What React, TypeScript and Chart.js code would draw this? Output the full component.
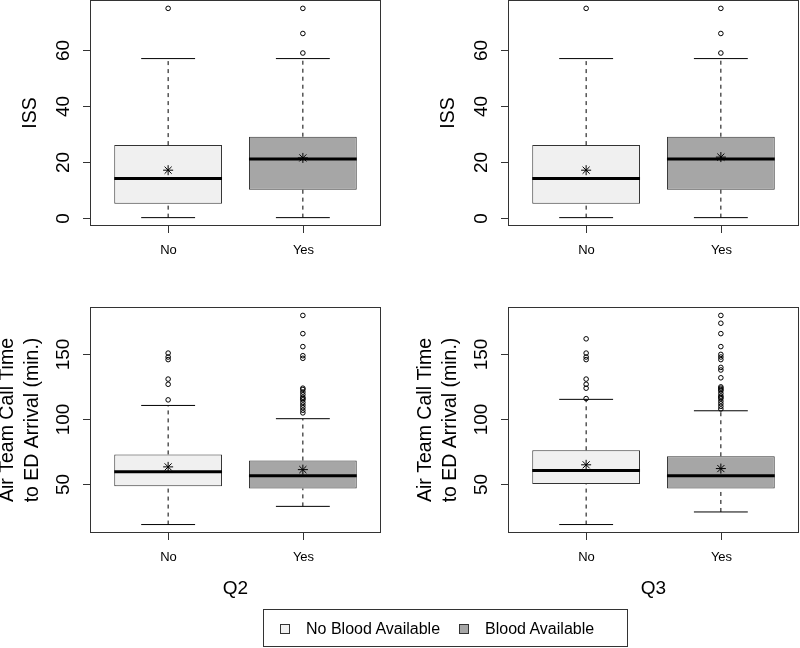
import React, { useEffect, useRef } from 'react';
import { Chart, registerables } from 'chart.js';

Chart.register(...registerables);

// ---------- data ----------
const groups = ['No', 'Yes'];
const legendLabels = ['No Blood Available', 'Blood Available'];
const panelTitles = ['Q2', 'Q3'];

const issTicks = [0, 20, 40, 60];
const airTicks = [50, 100, 150];
const issTitle = ['ISS'];
const airTitle = ['Air Team Call Time', 'to ED Arrival (min.)'];

// ISS, Q2
const issQ2Min = [0, 0];
const issQ2Q1 = [5, 10];
const issQ2Median = [14, 21];
const issQ2Q3 = [26, 29];
const issQ2Max = [57, 57];
const issQ2Mean = [17, 21.4];
const issQ2OutliersNo = [75];
const issQ2OutliersYes = [59, 66, 75];

// ISS, Q3
const issQ3Min = [0, 0];
const issQ3Q1 = [5, 10];
const issQ3Median = [14, 21];
const issQ3Q3 = [26, 29];
const issQ3Max = [57, 57];
const issQ3Mean = [17, 21.7];
const issQ3OutliersNo = [75];
const issQ3OutliersYes = [59, 66, 75];

// Air team call time to ED arrival, Q2
const airQ2Min = [19, 33];
const airQ2Q1 = [48.5, 46.7];
const airQ2Median = [59.6, 56.5];
const airQ2Q3 = [73, 68.3];
const airQ2Max = [110.7, 100.5];
const airQ2Mean = [63.4, 61.3];
const airQ2OutliersNo = [115, 127, 131, 146, 148, 151];
const airQ2OutliersYes = [180, 166, 156, 149, 147, 124, 123, 121, 119, 117, 116, 115, 113, 111, 109, 107, 105];

// Air team call time to ED arrival, Q3
const airQ3Min = [19, 28.7];
const airQ3Q1 = [50.3, 46.7];
const airQ3Median = [60.6, 56.5];
const airQ3Q3 = [76.2, 71.6];
const airQ3Max = [115.4, 106.6];
const airQ3Mean = [65, 62.1];
const airQ3OutliersNo = [162, 151, 148, 146, 131, 127, 124, 116];
const airQ3OutliersYes = [180, 174, 166, 156, 150, 148, 146, 140, 138, 132, 125, 124, 123, 122, 120, 118, 117, 116, 114, 112, 110, 108];

const issRange = [-3, 78];
const airRange = [12.5, 186.5];

// ---------- styles ----------
const FONT = '"Liberation Sans", Arial, sans-serif';
const LIGHT = '#F0F0F0';
const DARK = '#A6A6A6';
const FRAME = '#333333';
const BOX_W = 0.8;

type Stats = {
  min: number[]; q1: number[]; median: number[]; q3: number[]; max: number[]; mean: number[]; outliers: number[][];
};

type PanelProps = {
  stats: Stats;
  range: number[];
  ticks: number[];
  title: string[];
  xTitle?: string;
  area: { left: number; top: number; right: number; bottom: number };
};

function seg(x0: number, x1: number, y0: number, y1: number) {
  return [{ x: x0, y: y0 }, { x: x1, y: y1 }];
}

function BoxPanel({ stats, range, ticks, title, xTitle, area }: PanelProps) {
  const ref = useRef<HTMLCanvasElement>(null);
  useEffect(() => {
    const canvas = ref.current!;
    const datasets: any[] = [];
    const fills = [LIGHT, DARK];
    datasets.push({
      type: 'bar',
      data: groups.map((_, i) => ({ x: i + 1, y: [stats.q1[i], stats.q3[i]] })),
      backgroundColor: fills,
      borderColor: FRAME,
      borderWidth: 1,
      borderSkipped: false,
      categoryPercentage: BOX_W,
      barPercentage: 1,
      order: 10,
    });
    groups.forEach((_, i) => {
      const cx = i + 1;
      const lineBase = { type: 'line', pointRadius: 0, borderColor: '#000', borderWidth: 1, fill: false, tension: 0 };
      datasets.push({ ...lineBase, data: seg(cx, cx, stats.q3[i], stats.max[i]), borderDash: [4, 4], order: 9 });
      datasets.push({ ...lineBase, data: seg(cx, cx, stats.min[i], stats.q1[i]), borderDash: [4, 4], order: 9 });
      datasets.push({ ...lineBase, data: seg(cx - BOX_W / 4, cx + BOX_W / 4, stats.max[i], stats.max[i]), order: 8 });
      datasets.push({ ...lineBase, data: seg(cx - BOX_W / 4, cx + BOX_W / 4, stats.min[i], stats.min[i]), order: 8 });
      datasets.push({ ...lineBase, data: seg(cx - BOX_W / 2, cx + BOX_W / 2, stats.median[i], stats.median[i]), borderWidth: 3, borderCapStyle: 'butt', order: 3 });
    });
    datasets.push({
      type: 'scatter',
      data: groups.map((_, i) => ({ x: i + 1, y: stats.mean[i] })),
      pointStyle: 'star',
      pointRadius: 5,
      borderColor: '#000',
      borderWidth: 1,
      order: 2,
    });
    datasets.push({
      type: 'scatter',
      data: stats.outliers.flatMap((arr, i) => arr.map((v) => ({ x: i + 1, y: v }))),
      pointStyle: 'circle',
      pointRadius: 2.3,
      backgroundColor: 'rgba(255,255,255,0)',
      borderColor: '#000',
      borderWidth: 1,
      order: 1,
    });

    const framePlugin = {
      id: 'rframe',
      afterDraw(chart: any) {
        const { ctx, chartArea: a, scales } = chart;
        const xs = scales.x;
        const ys = scales.y;
        ctx.save();
        ctx.strokeStyle = FRAME;
        ctx.lineWidth = 1;
        ctx.strokeRect(a.left + 0.5, a.top + 0.5, a.right - a.left - 1, a.bottom - a.top - 1);
        ctx.fillStyle = '#000';
        // y ticks
        ctx.font = `19px ${FONT}`;
        ctx.textAlign = 'center';
        ctx.textBaseline = 'middle';
        ticks.forEach((v) => {
          const py = Math.round(ys.getPixelForValue(v)) + 0.5;
          ctx.beginPath();
          ctx.moveTo(a.left - 7, py);
          ctx.lineTo(a.left, py);
          ctx.stroke();
          ctx.save();
          ctx.translate(a.left - 26, py);
          ctx.rotate(-Math.PI / 2);
          ctx.fillText(String(v), 0, 0);
          ctx.restore();
        });
        // x ticks
        ctx.font = `13px ${FONT}`;
        groups.forEach((g, i) => {
          const px = Math.round(xs.getPixelForValue(i + 1)) + 0.5;
          ctx.beginPath();
          ctx.moveTo(px, a.bottom);
          ctx.lineTo(px, a.bottom + 7);
          ctx.stroke();
          ctx.fillText(g, px, a.bottom + 24);
        });
        // y title
        const cy = (a.top + a.bottom) / 2;
        ctx.font = `19.5px ${FONT}`;
        const offs = title.length === 1 ? [59] : [82, 57];
        title.forEach((t, k) => {
          ctx.save();
          ctx.translate(a.left - offs[k], cy);
          ctx.rotate(-Math.PI / 2);
          ctx.fillText(t, 0, 0);
          ctx.restore();
        });
        if (xTitle) {
          ctx.font = `19px ${FONT}`;
          ctx.fillText(xTitle, (a.left + a.right) / 2, a.bottom + 56);
        }
        ctx.restore();
      },
    };

    const chart = new Chart(canvas, {
      type: 'bar',
      data: { datasets },
      options: {
        animation: false,
        responsive: false,
        maintainAspectRatio: false,
        events: [],
        layout: {
          autoPadding: false,
          padding: { left: area.left, top: area.top, right: 800 - area.right, bottom: 648 - area.bottom },
        },
        plugins: { legend: { display: false }, tooltip: { enabled: false } },
        scales: {
          x: {
            type: 'linear',
            min: 0.42,
            max: 2.58,
            offset: false,
            display: false,
            afterBuildTicks: (s: any) => {
              s.ticks = groups.map((_, i) => ({ value: i + 1 }));
            },
          },
          y: { type: 'linear', min: range[0], max: range[1], display: false },
        },
      } as any,
      plugins: [framePlugin],
    } as any);
    return () => chart.destroy();
  }, []);
  return (
    <canvas
      ref={ref}
      width={800}
      height={648}
      style={{ position: 'absolute', left: 0, top: 0, width: 800, height: 648 }}
    />
  );
}

export default function App() {
  useEffect(() => {
    document.body.style.margin = '0';
  }, []);
  const issQ2: Stats = { min: issQ2Min, q1: issQ2Q1, median: issQ2Median, q3: issQ2Q3, max: issQ2Max, mean: issQ2Mean, outliers: [issQ2OutliersNo, issQ2OutliersYes] };
  const issQ3: Stats = { min: issQ3Min, q1: issQ3Q1, median: issQ3Median, q3: issQ3Q3, max: issQ3Max, mean: issQ3Mean, outliers: [issQ3OutliersNo, issQ3OutliersYes] };
  const airQ2: Stats = { min: airQ2Min, q1: airQ2Q1, median: airQ2Median, q3: airQ2Q3, max: airQ2Max, mean: airQ2Mean, outliers: [airQ2OutliersNo, airQ2OutliersYes] };
  const airQ3: Stats = { min: airQ3Min, q1: airQ3Q1, median: airQ3Median, q3: airQ3Q3, max: airQ3Max, mean: airQ3Mean, outliers: [airQ3OutliersNo, airQ3OutliersYes] };

  const sq = (bg: string, left: number) => (
    <div style={{ position: 'absolute', left, top: 14, width: 10, height: 10, boxSizing: 'border-box', border: `1px solid ${FRAME}`, background: bg }} />
  );
  const txt = (t: string, left: number) => (
    <div style={{ position: 'absolute', left, top: 9, lineHeight: '20px', fontSize: 16, fontFamily: FONT, color: '#000', whiteSpace: 'nowrap' }}>{t}</div>
  );

  return (
    <div style={{ position: 'relative', width: 800, height: 648, background: '#fff', overflow: 'hidden' }}>
      <BoxPanel stats={issQ2} range={issRange} ticks={issTicks} title={issTitle} area={{ left: 90, top: 0, right: 381, bottom: 226 }} />
      <BoxPanel stats={issQ3} range={issRange} ticks={issTicks} title={issTitle} area={{ left: 508, top: 0, right: 799, bottom: 226 }} />
      <BoxPanel stats={airQ2} range={airRange} ticks={airTicks} title={airTitle} xTitle={panelTitles[0]} area={{ left: 90, top: 307, right: 381, bottom: 533 }} />
      <BoxPanel stats={airQ3} range={airRange} ticks={airTicks} title={airTitle} xTitle={panelTitles[1]} area={{ left: 508, top: 307, right: 799, bottom: 533 }} />
      <div style={{ position: 'absolute', left: 263, top: 609, width: 365, height: 38, boxSizing: 'border-box', border: `1px solid ${FRAME}` }}>
        {sq(LIGHT, 16)}
        {txt(legendLabels[0], 42)}
        {sq(DARK, 195)}
        {txt(legendLabels[1], 221)}
      </div>
    </div>
  );
}
